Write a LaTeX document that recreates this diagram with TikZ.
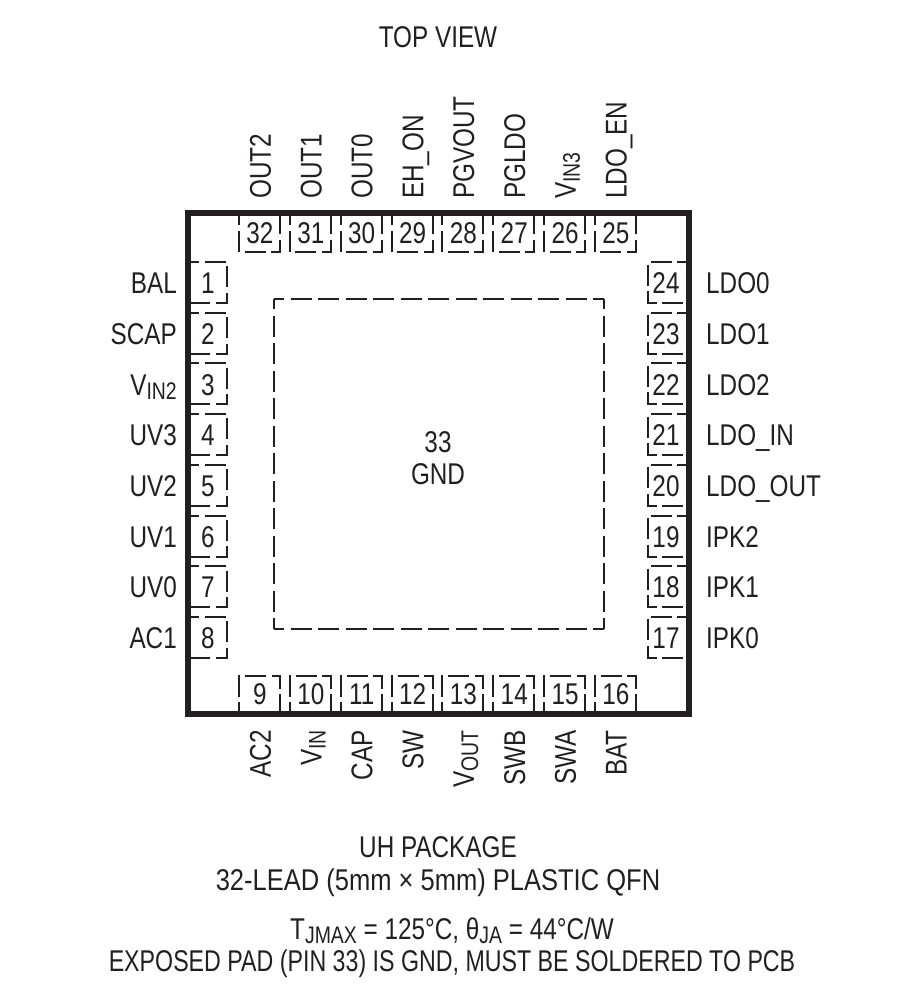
\documentclass[tikz,border=0pt]{standalone}
\usepackage{fontspec}
\setmainfont[FakeStretch=0.81]{Liberation Sans}
\usepackage{tikz}
\definecolor{inkdark}{HTML}{231F20}
\newcommand{\subtxt}[1]{\raisebox{-4pt}{\fontsize{24}{24}\selectfont #1}}
\tikzset{
	txt/.style={inner sep=0pt, text height=21.5pt, text depth=0pt, text=inkdark, font=\fontsize{30}{31}\selectfont},
	padedge/.style={draw=inkdark, line width=2pt, dash pattern=on 21pt off 5.5pt, dash phase=11pt},
	bigedge/.style={draw=inkdark, line width=2pt, dash pattern=on 21pt off 6.5pt, dash phase=10.5pt}
}
\begin{document}
\begin{tikzpicture}[x=1pt, y=-1pt]
	\useasboundingbox (0,0) rectangle (912,1007);
	% package outline
	\draw [draw=inkdark, line width=6pt] (187.7,213) rectangle (688.5,713.7);
	% exposed pad
	\coordinate (padA) at (273.5,298.5);
	\coordinate (padB) at (603.5,298.5);
	\coordinate (padC) at (603.5,628.5);
	\coordinate (padD) at (273.5,628.5);
	\draw [bigedge, line cap=butt] (padA) -- (padB) (padB) -- (padC) (padC) -- (padD) (padD) -- (padA);
	\node [txt] (padnum) at (438,442) {33};
	\node [txt] (padname) at (438,474) {GND};
	% left side
	\foreach \n/\t [count=\i] in {1/BAL,2/SCAP,3/{V\subtxt{IN2}},4/UV3,5/UV2,6/UV1,7/UV0,8/AC1}{
		\pgfmathsetmacro{\py}{283+(\i-1)*50.7}
		\draw [padedge] (189,\py-21) -- (226.7,\py-21) -- (226.7,\py+20) -- (189,\py+20);
		\node [txt] (pin\n) at (208,\py) {\n};
		\node [txt, anchor=east] (name\n) at (177,\py) {\t};
	}
	% right side
	\foreach \n/\t [count=\i] in {24/LDO0,23/LDO1,22/LDO2,21/LDO\_IN,20/LDO\_OUT,19/IPK2,18/IPK1,17/IPK0}{
		\pgfmathsetmacro{\py}{283+(\i-1)*50.7}
		\draw [padedge] (687,\py-21) -- (647.5,\py-21) -- (647.5,\py+20) -- (687,\py+20);
		\node [txt] (pin\n) at (666,\py) {\n};
		\node [txt, anchor=west] (name\n) at (706,\py) {\t};
	}
	% top side
	\foreach \n/\t [count=\i] in {32/OUT2,31/OUT1,30/OUT0,29/EH\_ON,28/PGVOUT,27/PGLDO,26/{V\subtxt{IN3}},25/LDO\_EN}{
		\pgfmathsetmacro{\px}{260+(\i-1)*50.85}
		\draw [padedge] (\px-21,215) -- (\px-21,251.5) -- (\px+20,251.5) -- (\px+20,215);
		\node [txt] (pin\n) at (\px,233) {\n};
		\node [txt, rotate=90, anchor=west] (name\n) at (\px,199) {\t};
	}
	% bottom side
	\foreach \n/\t [count=\i] in {9/AC2,10/{V\subtxt{IN}},11/CAP,12/SW,13/{V\subtxt{OUT}},14/SWB,15/SWA,16/BAT}{
		\pgfmathsetmacro{\px}{260+(\i-1)*50.85}
		\draw [padedge] (\px-21,712) -- (\px-21,676) -- (\px+20,676) -- (\px+20,712);
		\node [txt] (pin\n) at (\px,694) {\n};
		\node [txt, rotate=90, anchor=east] (name\n) at (\px,730) {\t};
	}
	% captions
	\node [txt] (viewname) at (438,37) {TOP VIEW};
	\node [txt] (pkgname) at (438,847) {UH PACKAGE};
	\node [txt] (pkgsize) at (438,880) {\scalebox{1.05}[1]{32-LEAD (5mm × 5mm) PLASTIC QFN}};
	\node [txt] (thermal) at (452,929) {T\subtxt{JMAX} = 125°C, θ\subtxt{JA} = 44°C/W};
	\node [txt] (padnote) at (452,961) {\scalebox{0.955}[1]{EXPOSED PAD (PIN 33) IS GND, MUST BE SOLDERED TO PCB}};
\end{tikzpicture}
\end{document}
